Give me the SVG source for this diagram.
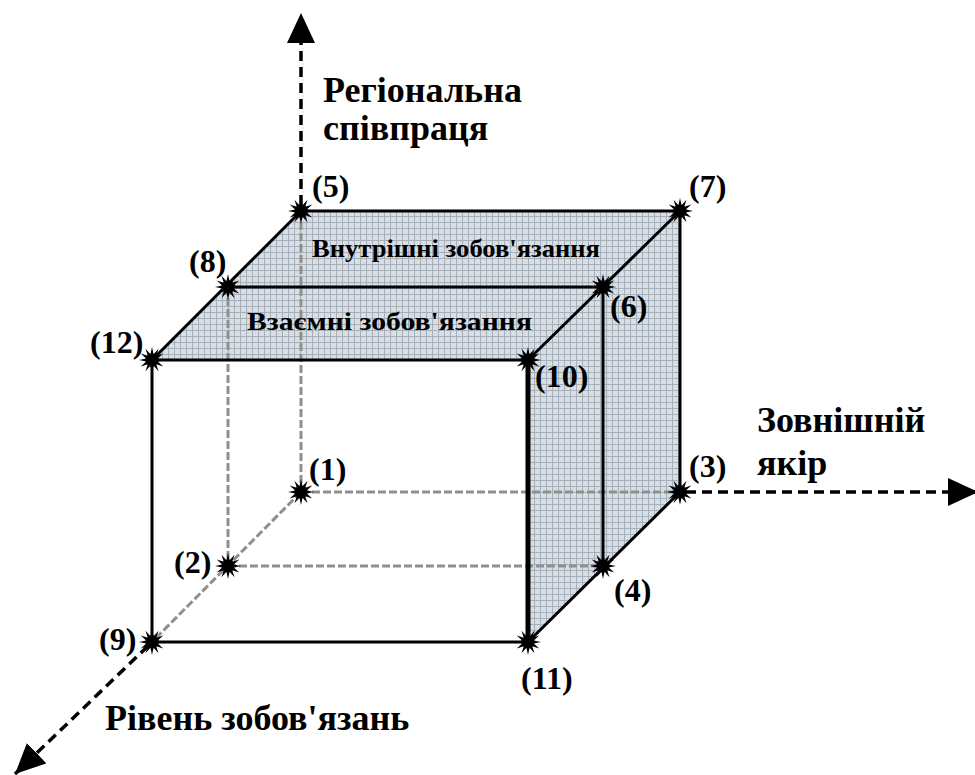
<svg xmlns="http://www.w3.org/2000/svg" xmlns:xlink="http://www.w3.org/1999/xlink" width="975" height="775" viewBox="0 0 975 775">
<style>
.edge{stroke:#000;stroke-width:3;fill:none;stroke-linecap:round}
.hidden{stroke:#8f8f8f;stroke-width:3;stroke-dasharray:8 3;fill:none}
.axis{stroke:#000;stroke-width:3.5;stroke-dasharray:10 6;fill:none}
text{font-family:'Liberation Serif','Times New Roman','DejaVu Serif',serif;font-weight:700;fill:#000}
</style>
<defs>
<pattern id="grid" width="6" height="6" patternUnits="userSpaceOnUse">
<rect width="6" height="6" fill="#d9dee4"/>
<path d="M0,0.5H6M0.5,0V6" stroke="#a6b0ba" stroke-width="1"/>
</pattern>
<marker id="arr" markerUnits="userSpaceOnUse" markerWidth="32" markerHeight="30" refX="30" refY="14" orient="auto">
<path d="M0,0 L30,14 L0,28 Z" fill="#000"/>
</marker>
<g id="star">
<polygon points="13,0 5.8,1.55 11.26,6.5 4.24,4.24 6.5,11.26 1.55,5.8 0,13 -1.55,5.8 -6.5,11.26 -4.24,4.24 -11.26,6.5 -5.8,1.55 -13,0 -5.8,-1.55 -11.26,-6.5 -4.24,-4.24 -6.5,-11.26 -1.55,-5.8 0,-13 1.55,-5.8 6.5,-11.26 4.24,-4.24 11.26,-6.5 5.8,-1.55" fill="#000"/>
<circle r="6.5" fill="#000"/>
</g>
</defs>
<rect width="975" height="775" fill="#fff"/>
<polygon id="shaded-faces" points="152,360 301,211 680,211 680,492 528,642 528,360" fill="url(#grid)"/>
<g id="connectors">
<line class="hidden" x1="228" y1="287" x2="228" y2="566"/>
<line class="hidden" x1="301" y1="211" x2="301" y2="492"/>
<line class="hidden" x1="301" y1="492" x2="680" y2="492"/>
<line class="hidden" x1="228" y1="566" x2="603" y2="566"/>
<line class="hidden" x1="301" y1="492" x2="152" y2="642"/>
<line class="axis" x1="301" y1="205" x2="301" y2="13" marker-end="url(#arr)"/>
<line class="axis" x1="686" y1="492" x2="978" y2="492" marker-end="url(#arr)"/>
<line class="axis" x1="148" y1="646" x2="15" y2="774" marker-end="url(#arr)"/>
<line class="edge" x1="152" y1="360" x2="528" y2="360"/>
<line class="edge" x1="152" y1="360" x2="301" y2="211"/>
<line class="edge" x1="301" y1="211" x2="680" y2="211"/>
<line class="edge" x1="680" y1="211" x2="528" y2="360"/>
<line class="edge" x1="228" y1="287" x2="603" y2="287"/>
<line class="edge" x1="680" y1="211" x2="680" y2="492"/>
<line class="edge" x1="603" y1="287" x2="603" y2="566"/>
<line class="edge" x1="528" y1="360" x2="528" y2="642" style="stroke-width:5"/>
<line class="edge" x1="152" y1="360" x2="152" y2="642"/>
<line class="edge" x1="152" y1="642" x2="528" y2="642"/>
<line class="edge" x1="680" y1="492" x2="528" y2="642"/>
</g>
<g font-size="32">
<g id="n1"><use href="#star" x="301" y="492"/><text x="309" y="480">(1)</text></g>
<g id="n2"><use href="#star" x="228" y="566"/><text x="174" y="573">(2)</text></g>
<g id="n3"><use href="#star" x="680" y="492"/><text x="689" y="477">(3)</text></g>
<g id="n4"><use href="#star" x="603" y="566"/><text x="614" y="601">(4)</text></g>
<g id="n5"><use href="#star" x="301" y="211"/><text x="312" y="197">(5)</text></g>
<g id="n6"><use href="#star" x="603" y="287"/><text x="610" y="317">(6)</text></g>
<g id="n7"><use href="#star" x="680" y="211"/><text x="689" y="197">(7)</text></g>
<g id="n8"><use href="#star" x="228" y="287"/><text x="189" y="272">(8)</text></g>
<g id="n9"><use href="#star" x="152" y="642"/><text x="99" y="650">(9)</text></g>
<g id="n10"><use href="#star" x="528" y="360"/><text x="535" y="387">(10)</text></g>
<g id="n11"><use href="#star" x="528" y="642"/><text x="521" y="689">(11)</text></g>
<g id="n12"><use href="#star" x="152" y="360"/><text x="90" y="353">(12)</text></g>
</g>
<g font-size="25">
<g id="face-inner"><text x="312" y="257" textLength="288" lengthAdjust="spacingAndGlyphs">Внутрішні зобов'язання</text></g>
<g id="face-mutual"><text x="247" y="330" textLength="285" lengthAdjust="spacingAndGlyphs">Взаємні зобов'язання</text></g>
</g>
<g font-size="36">
<g id="axis-regional"><text x="323" y="102">Регіональна</text><text x="323" y="140">співпраця</text></g>
<g id="axis-external"><text x="757" y="432">Зовнішній</text><text x="757" y="475">якір</text></g>
<g id="axis-level"><text x="105" y="730">Рівень зобов'язань</text></g>
</g>
</svg>
